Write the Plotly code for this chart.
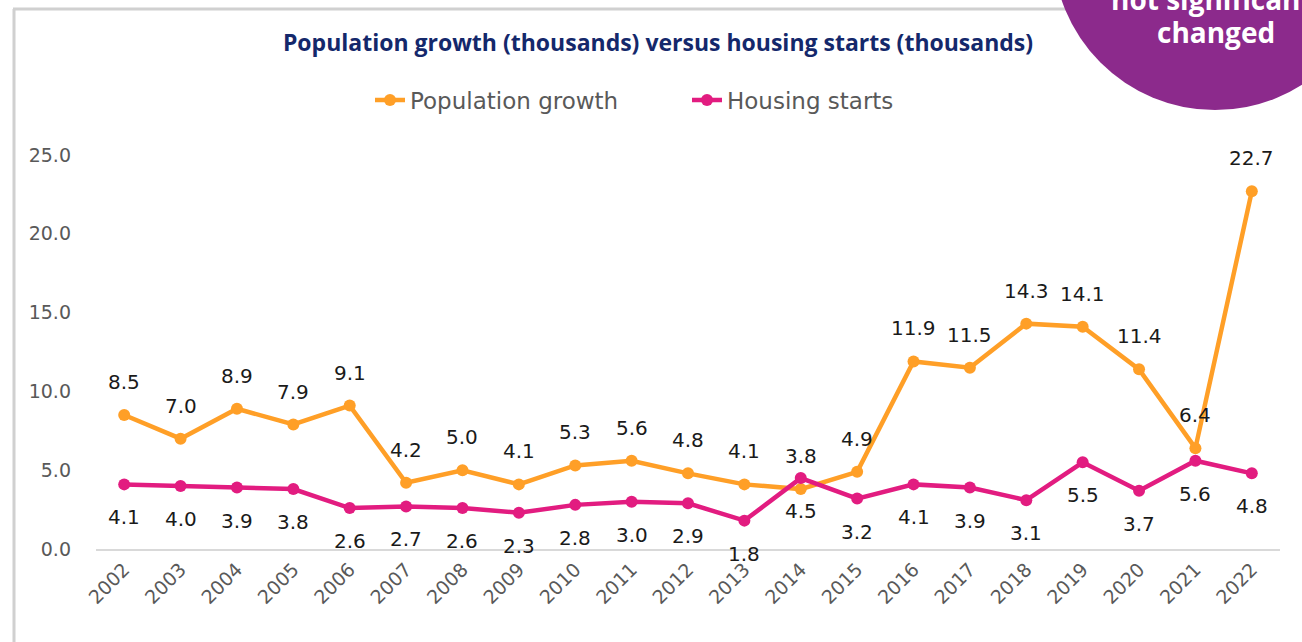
import plotly.graph_objects as go

years = [str(y) for y in range(2002, 2023)]
population_growth = [8.5, 7.0, 8.9, 7.9, 9.1, 4.2, 5.0, 4.1, 5.3, 5.6, 4.8, 4.1, 3.8, 4.9,
                     11.9, 11.5, 14.3, 14.1, 11.4, 6.4, 22.7]
housing_starts = [4.1, 4.0, 3.9, 3.8, 2.6, 2.7, 2.6, 2.3, 2.8, 3.0, 2.9, 1.8, 4.5, 3.2,
                  4.1, 3.9, 3.1, 5.5, 3.7, 5.6, 4.8]
y_ticks = [0, 5, 10, 15, 20, 25]

ORANGE = "#FF9F27"
PINK = "#E21C80"
PURPLE = "#8C2A8C"
FONT = "'DejaVu Sans', sans-serif"
TFONT = "'Open Sans', sans-serif"

W, H = 1302, 642
L, R, T, B = 96, 22, 155, 93
pw, ph = W - L - R, H - T - B

def px(x):
    return (x - L) / pw

def py(y):
    return (H - B - y) / ph

fig = go.Figure()
fig.add_trace(go.Scatter(x=years, y=population_growth, name="Population growth",
                         mode="lines+markers", line=dict(color=ORANGE, width=4.5),
                         marker=dict(size=12, color=ORANGE), cliponaxis=False))
fig.add_trace(go.Scatter(x=years, y=housing_starts, name="Housing starts",
                         mode="lines+markers", line=dict(color=PINK, width=4.5),
                         marker=dict(size=12, color=PINK), cliponaxis=False))

for i, v in enumerate(population_growth):
    fig.add_annotation(x=i, y=v, xref="x", yref="y", text=f"{v:.1f}", showarrow=False, yshift=33,
                       font=dict(family=FONT, size=20, color="#1a1a1a"))
for i, v in enumerate(housing_starts):
    fig.add_annotation(x=i, y=v, xref="x", yref="y", text=f"{v:.1f}", showarrow=False, yshift=-33,
                       font=dict(family=FONT, size=20, color="#1a1a1a"))

# frame lines
fig.add_shape(type="line", xref="paper", yref="paper", x0=px(13), x1=px(1302), y0=py(9), y1=py(9),
              line=dict(color="#d0d0d0", width=3), layer="above")
fig.add_shape(type="line", xref="paper", yref="paper", x0=px(14), x1=px(14), y0=py(9), y1=py(642),
              line=dict(color="#d0d0d0", width=3), layer="above")
# purple badge
cx, cy, r = 1215, -52, 162
fig.add_shape(type="circle", xref="paper", yref="paper", x0=px(cx - r), x1=px(cx + r),
              y0=py(cy + r), y1=py(cy - r), fillcolor=PURPLE, line=dict(width=0), layer="above")
fig.add_annotation(xref="paper", yref="paper", x=px(1224), y=py(-1), text="<b>not significantly</b>",
                   showarrow=False, font=dict(family=TFONT, size=28, color="white"),
                   xanchor="center", yanchor="middle")
fig.add_annotation(xref="paper", yref="paper", x=px(1216), y=py(32), text="<b>changed</b>",
                   showarrow=False, font=dict(family=TFONT, size=28, color="white"),
                   xanchor="center", yanchor="middle")

fig.update_layout(
    width=W, height=H,
    margin=dict(l=L, r=R, t=T, b=B),
    paper_bgcolor="white", plot_bgcolor="white",
    title=dict(text="<b>Population growth (thousands) versus housing starts (thousands)</b>",
               xref="container", x=658 / W, xanchor="center", y=1 - 43 / H, yanchor="middle",
               font=dict(family=TFONT, size=23, color="#14286B")),
    legend=dict(orientation="h", x=px(370), xanchor="left", y=py(100), yanchor="middle",
                entrywidth=272, entrywidthmode="pixels",
                font=dict(family=FONT, size=23, color="#595959"),
                bgcolor="rgba(0,0,0,0)"),
    xaxis=dict(type="category", range=[-0.5, len(years) - 0.5], showgrid=False,
               showline=True, linecolor="#d9d9d9", linewidth=2, ticks="",
               tickangle=-45, tickfont=dict(family=FONT, size=19, color="#595959")),
    yaxis=dict(range=[0, 25], tickvals=y_ticks, ticktext=[f"{v:.1f}" for v in y_ticks],
               showgrid=False, zeroline=False, showline=False, ticks="",
               ticklabelstandoff=24,
               tickfont=dict(family=FONT, size=19, color="#595959")),
)

fig.write_html("out.html", config={"displayModeBar": False},
               post_script="document.body.style.margin='0';document.body.style.overflow='hidden';")
